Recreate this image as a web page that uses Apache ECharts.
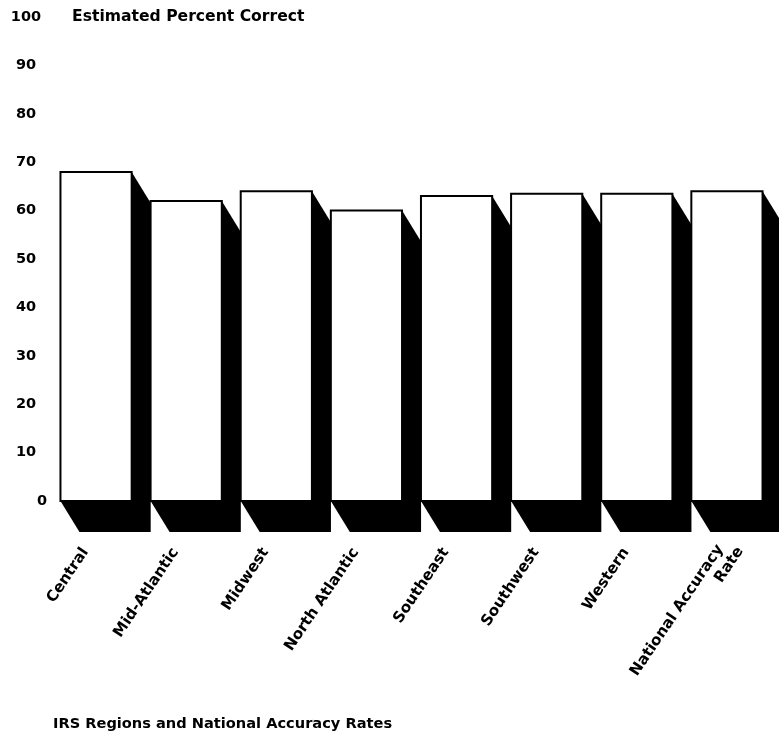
<!DOCTYPE html>
<html>
<head>
<meta charset="utf-8">
<style>
  html, body { margin: 0; padding: 0; background: #ffffff; }
  #chart { width: 779px; height: 734px; }
</style>
<script src="https://cdn.jsdelivr.net/npm/echarts@6/dist/echarts.min.js"></script>
</head>
<body>
<div id="chart"></div>
<script>
// Estimated percent of answers correct, by IRS region
const regions = ['Central', 'Mid-Atlantic', 'Midwest', 'North Atlantic', 'Southeast', 'Southwest', 'Western', 'National Accuracy\nRate'];
const percentCorrect = [68, 62, 64, 60, 63, 63.5, 63.5, 64];
const yTicks = { min: 0, max: 100, step: 10 };

const FONT = '"DejaVu Sans", sans-serif';
const DEPTH_X = 19;   // extrusion offset of each block, px
const DEPTH_Y = 31;

const labelFont = { fontFamily: FONT, fontWeight: 'bold', fontSize: 14.5, color: '#000000' };
const catFont = { fontFamily: FONT, fontWeight: 'bold', fontSize: 15.2, color: '#000000' };

const chart = echarts.init(document.getElementById('chart'), null, { renderer: 'canvas' });

const barData = percentCorrect.map((v, i) => [i, v]);

// two-line category names get their own label offset
const axisCategories = regions.map(name => name.indexOf('\n') >= 0
  ? { value: name, textStyle: { padding: [0, 4.9, 0, 0] } }
  : name);

// Each bar: a black extruded prism behind a white front face
function renderBar(params, api) {
  const cat = api.value(0);
  const top = api.coord([cat, api.value(1)]);
  const base = api.coord([cat, 0]);
  const bw = api.size([1, 0])[0] * 0.79;
  const x0 = top[0] - bw / 2;
  const x1 = x0 + bw;
  const y0 = top[1];
  const y1 = base[1];
  return {
    type: 'group',
    children: [
      {
        type: 'polygon',
        shape: {
          points: [
            [x0, y0], [x1, y0], [x1 + DEPTH_X, y0 + DEPTH_Y],
            [x1 + DEPTH_X, y1 + DEPTH_Y], [x0 + DEPTH_X, y1 + DEPTH_Y], [x0, y1]
          ]
        },
        style: { fill: '#000000' }
      },
      {
        type: 'rect',
        shape: { x: x0, y: y0, width: bw, height: y1 - y0 },
        style: { fill: '#ffffff', stroke: '#000000', lineWidth: 2 }
      }
    ]
  };
}

chart.setOption({
  backgroundColor: '#ffffff',
  animation: false,
  title: [{
    text: 'IRS Regions and National Accuracy Rates',
    left: 53,
    top: 717,
    padding: 0,
    textStyle: { fontFamily: FONT, fontWeight: 'bold', fontSize: 14.6, color: '#000000' }
  }],
  grid: {
    left: 51, right: 7, top: 17, bottom: 233,
    containLabel: false,
    outerBoundsMode: 'none'
  },
  xAxis: {
    type: 'category',
    data: axisCategories,
    axisLine: { show: false },
    axisTick: { show: false },
    splitLine: { show: false },
    axisLabel: Object.assign({
      interval: 0,
      rotate: 56,
      margin: 32.6,
      padding: [0, 19.2, 0, 0],
      lineHeight: 16,
      formatter: v => {
        const parts = v.split('\n');
        return parts.length > 1
          ? '{sp|\u00a0}\n{l1|' + parts[0] + '}\n{l2|' + parts[1] + '}'
          : v;
      },
      rich: {
        sp: Object.assign({ lineHeight: 21 }, catFont),
        l1: Object.assign({ lineHeight: 17.7, padding: [0, 9.5, 0, 0] }, catFont),
        l2: Object.assign({ lineHeight: 17.7 }, catFont)
      }
    }, catFont)
  },
  yAxis: {
    type: 'value',
    min: yTicks.min,
    max: yTicks.max,
    interval: yTicks.step,
    name: 'Estimated Percent Correct',
    nameLocation: 'end',
    nameGap: 0,
    nameTextStyle: {
      fontFamily: FONT, fontWeight: 'bold', fontSize: 15.6, color: '#000000',
      align: 'left', verticalAlign: 'middle', padding: [0, 0, 0, 21]
    },
    axisLine: { show: false },
    axisTick: { show: false },
    splitLine: { show: false },
    axisLabel: Object.assign({
      margin: 25,
      align: 'center',
      formatter: v => (v === 0 ? '{zero|0}' : String(v)),
      rich: {
        zero: Object.assign({ padding: [0, 0, 0, 32] }, labelFont)
      }
    }, labelFont)
  },
  series: [{
    type: 'custom',
    clip: false,
    renderItem: renderBar,
    encode: { x: 0, y: 1 },
    data: barData
  }]
});
</script>
</body>
</html>
